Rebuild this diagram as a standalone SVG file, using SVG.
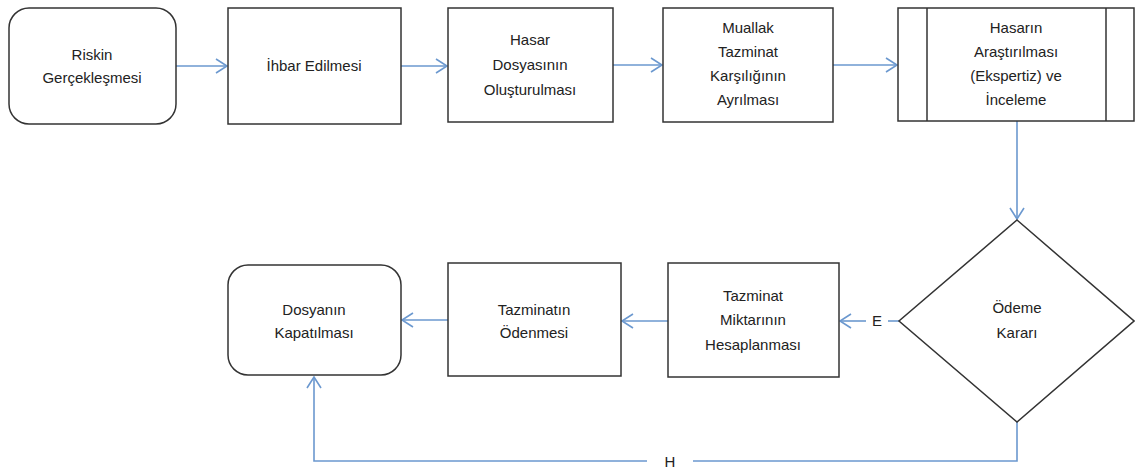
<svg xmlns="http://www.w3.org/2000/svg" width="1135" height="476" viewBox="0 0 1135 476">
<style>
.box{fill:#fff;stroke:#333;stroke-width:1.5}
.t{font-family:"Liberation Sans",Arial,sans-serif;font-size:15px;fill:#222;text-anchor:middle}
.c{fill:none;stroke:#6b98cf;stroke-width:1.6}
</style>
<defs>
<marker id="a" markerWidth="14" markerHeight="16" refX="12" refY="8" orient="auto" markerUnits="userSpaceOnUse">
<path d="M1,1 L12,8 L1,15" fill="none" stroke="#6b98cf" stroke-width="1.6"/>
</marker>
</defs>
<rect width="1135" height="476" fill="#fff"/>
<g id="connectors">
<line class="c" x1="176" y1="66" x2="227" y2="66" marker-end="url(#a)"/>
<line class="c" x1="401" y1="66" x2="447" y2="66" marker-end="url(#a)"/>
<line class="c" x1="613" y1="65" x2="662" y2="65" marker-end="url(#a)"/>
<line class="c" x1="833" y1="65" x2="897" y2="65" marker-end="url(#a)"/>
<line class="c" x1="1017" y1="121" x2="1017" y2="219" marker-end="url(#a)"/>
<line class="c" x1="899" y1="321" x2="888" y2="321"/>
<line class="c" x1="866" y1="321" x2="840" y2="321" marker-end="url(#a)"/>
<line class="c" x1="668" y1="321" x2="622" y2="321" marker-end="url(#a)"/>
<line class="c" x1="448" y1="320" x2="402" y2="320" marker-end="url(#a)"/>
<polyline class="c" points="1017,422 1017,461 693,461"/>
<polyline class="c" points="647,461 314,461 314,377" marker-end="url(#a)"/>
<text class="t" x="877" y="326">E</text>
<text class="t" x="670" y="467">H</text>
</g>
<g id="n1"><rect class="box" x="9" y="8" width="167" height="116" rx="20"/>
<text class="t" x="92" y="60">Riskin</text><text class="t" x="92" y="83">Gerçekleşmesi</text></g>
<g id="n2"><rect class="box" x="228" y="8" width="173" height="116"/>
<text class="t" x="314" y="71">İhbar Edilmesi</text></g>
<g id="n3"><rect class="box" x="448" y="8" width="165" height="114"/>
<text class="t" x="530" y="45">Hasar</text><text class="t" x="530" y="70">Dosyasının</text><text class="t" x="530" y="95">Oluşturulması</text></g>
<g id="n4"><rect class="box" x="663" y="8" width="170" height="114"/>
<text class="t" x="748" y="33">Muallak</text><text class="t" x="748" y="57">Tazminat</text><text class="t" x="748" y="81">Karşılığının</text><text class="t" x="748" y="105">Ayrılması</text></g>
<g id="n5"><rect class="box" x="898" y="8" width="236" height="113"/>
<line class="box" x1="927" y1="8" x2="927" y2="121"/><line class="box" x1="1106" y1="8" x2="1106" y2="121"/>
<text class="t" x="1016" y="33">Hasarın</text><text class="t" x="1016" y="57">Araştırılması</text><text class="t" x="1016" y="81">(Ekspertiz) ve</text><text class="t" x="1016" y="105">İnceleme</text></g>
<g id="n6"><polygon class="box" points="1017,220 1134,321 1017,422 899,321"/>
<text class="t" x="1017" y="313">Ödeme</text><text class="t" x="1017" y="338">Kararı</text></g>
<g id="n7"><rect class="box" x="668" y="263" width="171" height="114"/>
<text class="t" x="753" y="301">Tazminat</text><text class="t" x="753" y="325">Miktarının</text><text class="t" x="753" y="350">Hesaplanması</text></g>
<g id="n8"><rect class="box" x="448" y="263" width="173" height="113"/>
<text class="t" x="534" y="315">Tazminatın</text><text class="t" x="534" y="338">Ödenmesi</text></g>
<g id="n9"><rect class="box" x="228" y="265" width="173" height="110" rx="20"/>
<text class="t" x="314" y="315">Dosyanın</text><text class="t" x="314" y="338">Kapatılması</text></g>
</svg>
